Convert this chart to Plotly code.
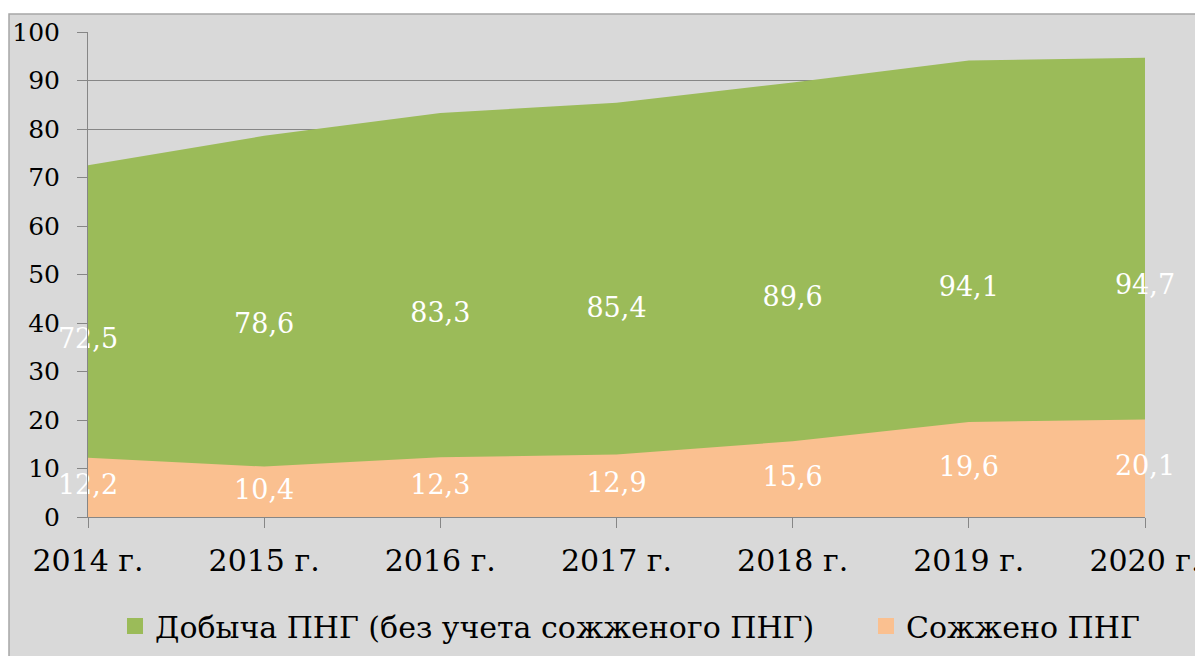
import plotly.graph_objects as go

years = ["2014 г.", "2015 г.", "2016 г.", "2017 г.", "2018 г.", "2019 г.", "2020 г."]
production = [72.5, 78.6, 83.3, 85.4, 89.6, 94.1, 94.7]
flared = [12.2, 10.4, 12.3, 12.9, 15.6, 19.6, 20.1]
y_ticks = [0, 10, 20, 30, 40, 50, 60, 70, 80, 90, 100]
series_names = ["Добыча ПНГ (без учета сожженого ПНГ)", "Сожжено ПНГ"]

GREEN = "#9bbb59"
ORANGE = "#fac090"
FONT = "DejaVu Serif"

def fmt(v):
    return f"{v:.1f}".replace(".", ",")

fig = go.Figure()
fig.add_trace(go.Scatter(
    x=years, y=production, mode="lines", fill="tozeroy",
    fillcolor=GREEN, line=dict(width=0, color=GREEN),
    showlegend=False, hoverinfo="skip"))
fig.add_trace(go.Scatter(
    x=years, y=flared, mode="lines", fill="tozeroy",
    fillcolor=ORANGE, line=dict(width=0, color=ORANGE),
    showlegend=False, hoverinfo="skip"))
# legend entries with square markers (one legend box each)
for name, col, lg in zip(series_names, [GREEN, ORANGE], ["legend", "legend2"]):
    fig.add_trace(go.Scatter(
        x=[None], y=[None], mode="markers", name=name, legend=lg,
        marker=dict(symbol="square", size=19, color=col)))
# data labels centred in each area
fig.add_trace(go.Scatter(
    x=years, y=[v / 2 for v in production], mode="text",
    text=[fmt(v) for v in production], textposition="middle center",
    textfont=dict(family=FONT, size=27, color="white"),
    showlegend=False, cliponaxis=False, hoverinfo="skip"))
fig.add_trace(go.Scatter(
    x=years, y=[v / 2 for v in flared], mode="text",
    text=[fmt(v) for v in flared], textposition="middle center",
    textfont=dict(family=FONT, size=27, color="white"),
    showlegend=False, cliponaxis=False, hoverinfo="skip"))

# page body has an 8px margin, so the figure is placed at (8, 8)
OFF = 8
W, H = 1203 - OFF, 656 - OFF
legend_style = dict(
    orientation="h", xanchor="left",
    y=(H - (626 - OFF)) / H, yanchor="middle",
    font=dict(family=FONT, size=30, color="black"),
    bgcolor="rgba(0,0,0,0)", itemwidth=30,
)
fig.update_layout(
    template="none",
    width=W, height=H,
    margin=dict(l=0, r=0, t=0, b=0, autoexpand=False),
    paper_bgcolor="white",
    plot_bgcolor="white",
    font=dict(family=FONT, color="black"),
    shapes=[dict(type="rect", xref="paper", yref="paper",
                 x0=(9 - OFF) / W, x1=1.01, y0=-0.01, y1=(H - (14 - OFF)) / H,
                 fillcolor="#d9d9d9", line=dict(color="#a6a6a6", width=1.5),
                 layer="below")],
    xaxis=dict(
        domain=[(88 - OFF) / W, (1145 - OFF) / W],
        range=[0, 6], type="category", automargin=False,
        showgrid=False, showline=True, linecolor="#868686", linewidth=1,
        ticks="outside", ticklen=10, tickcolor="#868686",
        tickfont=dict(family=FONT, size=30, color="black"),
        ticklabelstandoff=7,
    ),
    yaxis=dict(
        domain=[(H - (517 - OFF)) / H, (H - (32 - OFF)) / H],
        range=[0, 100], tickvals=y_ticks, automargin=False,
        showgrid=True, gridcolor="#868686", gridwidth=1,
        showline=True, linecolor="#868686", linewidth=1,
        ticks="outside", ticklen=10, tickcolor="#868686",
        tickfont=dict(family=FONT, size=25, color="black"),
        ticklabelstandoff=12, zeroline=False,
    ),
    legend=dict(legend_style, x=(115 - OFF) / W),
    legend2=dict(legend_style, x=(866 - OFF) / W),
)

fig.write_html("out.html")
